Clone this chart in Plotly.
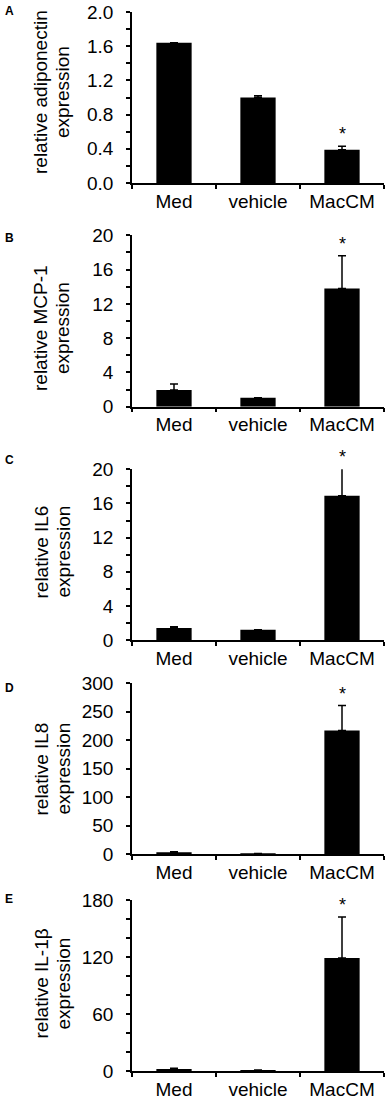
import plotly.graph_objects as go

W, H = 388, 1101
FONT = "Liberation Sans, Arial, sans-serif"

categories = ["Med", "vehicle", "MacCM"]

adiponectin = [1.64, 1.00, 0.39]
adiponectin_err = [0.0, 0.02, 0.04]

mcp1 = [1.95, 1.05, 13.8]
mcp1_err = [0.7, 0.0, 3.8]

il6 = [1.4, 1.2, 16.9]
il6_err = [0.15, 0.0, 3.3]

il8 = [3.0, 1.5, 217.0]
il8_err = [1.5, 0.0, 44.0]

il1b = [2.2, 1.0, 119.0]
il1b_err = [0.6, 0.0, 43.0]

panel_letters = ["A", "B", "C", "D", "E"]
title_line1 = ["relative adiponectin", "relative MCP-1", "relative IL6",
               "relative IL8", "relative IL-1β"]
title_line2 = ["expression"] * 5
y_max = [2.0, 20, 20, 300, 180]
y_dtick = [0.4, 4, 4, 50, 60]
y_minor = [0.2, 2, 2, None, 20]
y_fmt = [".1f", "d", "d", "d", "d"]

series = [adiponectin, mcp1, il6, il8, il1b]
errors = [adiponectin_err, mcp1_err, il6_err, il8_err, il1b_err]

# layout geometry (pixels from top)
plot_top = [12, 235.3, 469.3, 683.3, 900]
plot_bot = [183, 406.7, 640, 854.3, 1071]
letter_y = [11, 237.5, 459.5, 687.5, 899]
title_y = [92.5, 328.5, 552, 769, 984]
x_left, x_right = 132, 384

fig = go.Figure()
annotations = []
for i in range(5):
    n = "" if i == 0 else str(i + 1)
    xa, ya = "x" + n, "y" + n
    fig.add_trace(go.Bar(
        x=categories, y=series[i], xaxis=xa, yaxis=ya,
        width=0.42, marker=dict(color="black", line=dict(width=0)),
        error_y=dict(type="data", array=errors[i], arrayminus=[0, 0, 0],
                     symmetric=False, color="black", thickness=1.5, width=4),
        showlegend=False, hoverinfo="skip",
    ))
    yaxis = dict(
        domain=[1 - plot_bot[i] / H, 1 - plot_top[i] / H],
        range=[0, y_max[i]], dtick=y_dtick[i], tick0=0, tickformat=y_fmt[i],
        anchor=xa, showline=True, linewidth=1.5, linecolor="black",
        ticks="outside", ticklen=4, tickwidth=1.5, tickcolor="black",
        ticklabelstandoff=9, automargin=False,
        showgrid=False, zeroline=False,
        tickfont=dict(family=FONT, size=19, color="black"),
    )
    if y_minor[i] is not None:
        yaxis["minor"] = dict(dtick=y_minor[i], tick0=0, ticks="outside", ticklen=4,
                              tickwidth=1.5, tickcolor="black", showgrid=False)
    xaxis = dict(
        domain=[x_left / W, x_right / W], anchor=ya, type="category",
        range=[-0.5, 2.5], tickson="boundaries", automargin=False,
        showline=True, linewidth=1.5, linecolor="black",
        ticks="outside", ticklen=4, tickwidth=1.5, tickcolor="black",
        showgrid=False, zeroline=False,
        tickfont=dict(family=FONT, size=19, color="black"),
    )
    fig.update_layout(**{"xaxis" + n: xaxis, "yaxis" + n: yaxis})

    # significance star above MacCM
    star_y = min(series[i][2] + errors[i][2], y_max[i])
    annotations.append(dict(
        x=categories[2], y=star_y, xref=xa, yref=ya,
        text="*", showarrow=False, yanchor="bottom", xanchor="center", yshift=0,
        font=dict(family=FONT, size=18, color="black"),
    ))
    # panel letter
    annotations.append(dict(
        x=3 / W, y=1 - letter_y[i] / H, xref="paper", yref="paper",
        text="<b>" + panel_letters[i] + "</b>", showarrow=False,
        xanchor="left", yanchor="middle",
        font=dict(family=FONT, size=12, color="black"),
    ))
    # y-axis title lines
    for xc, txt in ((40.5, title_line1[i]), (62.5, title_line2[i])):
        annotations.append(dict(
            x=xc / W, y=1 - title_y[i] / H, xref="paper", yref="paper",
            text=txt, textangle=-90, showarrow=False,
            xanchor="center", yanchor="middle",
            font=dict(family=FONT, size=19, color="black"),
        ))

fig.update_layout(
    width=W, height=H,
    margin=dict(l=0, r=0, t=0, b=0, autoexpand=False),
    paper_bgcolor="white", plot_bgcolor="white",
    annotations=annotations,
    font=dict(family=FONT, color="black"),
)

fig.write_html("out.html", config={"displayModeBar": False},
               post_script="document.body.style.margin='0';")
